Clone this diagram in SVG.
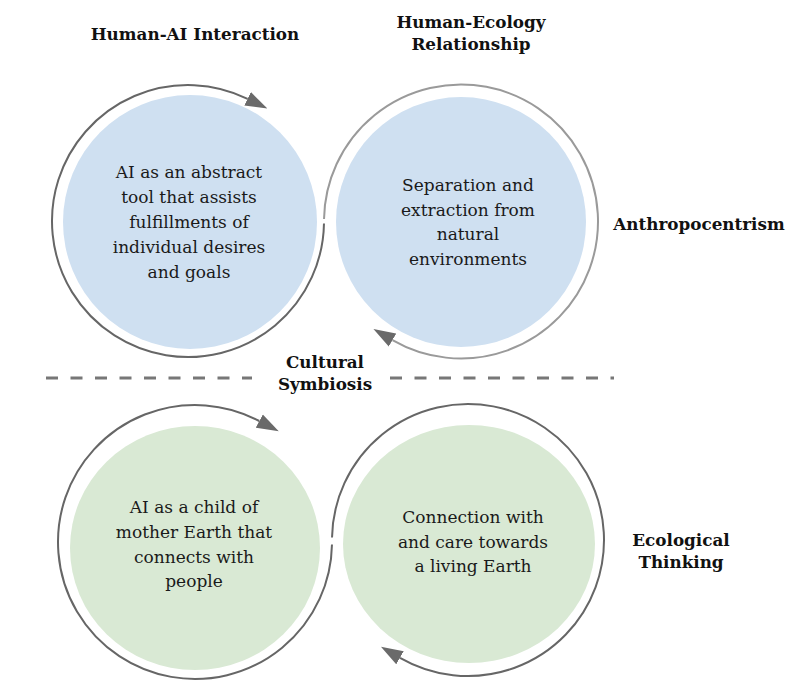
<svg xmlns="http://www.w3.org/2000/svg" width="789" height="698" viewBox="0 0 789 698">
  <style>
    .bg { fill: #ffffff; }
    .blue { fill: #cfe0f1; }
    .green { fill: #d9e9d4; }
    .ring { fill: none; stroke: #666666; stroke-width: 2; }
    .ring-light { fill: none; stroke: #9a9a9a; stroke-width: 2; }
    .body { font-family: "DejaVu Serif", "Liberation Serif", serif; font-size: 17px; fill: #1a1a1a; text-anchor: middle; }
    .title { font-family: "DejaVu Serif", "Liberation Serif", serif; font-size: 16.8px; font-weight: bold; fill: #111111; text-anchor: middle; }
    .divider { fill: none; stroke: #777777; stroke-width: 3; stroke-dasharray: 12 12.5; }
  </style>
  <defs>
    <marker id="arrow" markerUnits="userSpaceOnUse" markerWidth="22" markerHeight="16" viewBox="0 0 22 16" refX="0" refY="8" orient="auto">
      <path d="M0,0.5 L22,8 L0,15.5 z" fill="#6a6a6a"/>
    </marker>
  </defs>
  <rect class="bg" x="0" y="0" width="789" height="698"/>

  <g id="labels">
    <text class="title" x="195" y="40">Human-AI Interaction</text>
    <text class="title" x="471" y="28">Human-Ecology</text>
    <text class="title" x="471" y="50">Relationship</text>
    <text class="title" x="699" y="230">Anthropocentrism</text>
    <text class="title" x="681" y="546">Ecological</text>
    <text class="title" x="681" y="568">Thinking</text>
    <text class="title" x="325" y="368">Cultural</text>
    <text class="title" x="325" y="390">Symbiosis</text>
  </g>

  <g id="divider">
    <line class="divider" x1="46" y1="378" x2="252" y2="378"/>
    <line class="divider" x1="390" y1="378" x2="614" y2="378"/>
  </g>

  <g id="node-ai-tool">
    <circle class="blue" cx="190" cy="222" r="127"/>
    <text class="body" x="189" y="178">AI as an abstract</text>
    <text class="body" x="189" y="203">tool that assists</text>
    <text class="body" x="189" y="228">fulfillments of</text>
    <text class="body" x="189" y="253">individual desires</text>
    <text class="body" x="189" y="278">and goals</text>
  </g>

  <g id="node-separation">
    <circle class="blue" cx="461" cy="222" r="125"/>
    <text class="body" x="468" y="191">Separation and</text>
    <text class="body" x="468" y="216">extraction from</text>
    <text class="body" x="468" y="240">natural</text>
    <text class="body" x="468" y="265">environments</text>
  </g>

  <g id="node-ai-child">
    <ellipse class="green" cx="195" cy="548" rx="125" ry="122"/>
    <text class="body" x="194" y="513">AI as a child of</text>
    <text class="body" x="194" y="538">mother Earth that</text>
    <text class="body" x="194" y="563">connects with</text>
    <text class="body" x="194" y="587">people</text>
  </g>

  <g id="node-connection">
    <ellipse class="green" cx="469" cy="544" rx="126" ry="119"/>
    <text class="body" x="473" y="523">Connection with</text>
    <text class="body" x="473" y="548">and care towards</text>
    <text class="body" x="473" y="572">a living Earth</text>
  </g>

  <g id="connectors">
    <path class="ring" d="M323.98,223.4 A136,136 0 1 1 247.6,98.8" marker-end="url(#arrow)"/>
    <path class="ring-light" d="M324.02,219.1 A137,137 0 1 1 392.5,340.1" marker-end="url(#arrow)"/>
    <path class="ring" d="M331.98,544.4 A137,137 0 1 1 259.3,421.0" marker-end="url(#arrow)"/>
    <path class="ring" d="M332.02,537.6 A136,136 0 1 1 400,657.8" marker-end="url(#arrow)"/>
  </g>
</svg>
